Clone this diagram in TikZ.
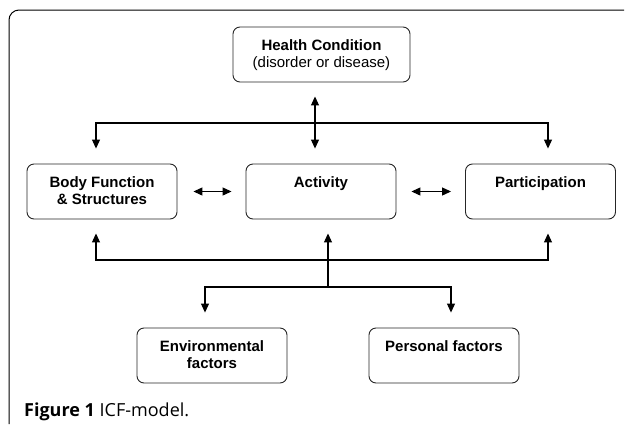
\documentclass[tikz,border=0pt]{standalone}
\usepackage{fontspec}
\setmainfont{Liberation Sans}
\newfontfamily\capfont{Open Sans}
\usetikzlibrary{positioning,arrows.meta}

\begin{document}
\begin{tikzpicture}[x=1pt,y=-1pt,
  box/.style={draw=black!85, line width=0.9pt, rounded corners=7pt,
    minimum width=150pt, minimum height=55pt},
  lbl/.style={inner sep=0pt, align=center,
    font=\fontsize{15}{17}\selectfont\bfseries},
  link/.style={line width=1.1pt},
  >={Triangle[length=9pt,width=8pt]}]
\useasboundingbox (0,0) rectangle (625,424);

% frame
\draw[line width=1pt, rounded corners=10pt] (9,424) |- (624,10);

% Health condition
\node[box, minimum width=177pt] (health) at (321.5,54.5) {};
\node[lbl, below=12.5pt of health.north] (healthtxt)
  {Health Condition\\\mdseries (disorder or disease)};

% middle row
\node[box] (body) at (102,191.5) {};
\node[box] (activity) at (321,191.5) {};
\node[box] (particip) at (540.5,191.5) {};
\node[lbl, below=12.5pt of body.north] (bodytxt) {Body Function\\\& Structures};
\node[lbl, below=12.5pt of activity.north] (activitytxt) {Activity};
\node[lbl, below=12.5pt of particip.north] (participtxt) {Participation};

% contextual factors
\node[box] (env) at (212,355.5) {};
\node[box] (personal) at (444,355.5) {};
\node[lbl, below=12.5pt of env.north] (envtxt) {Environmental\\factors};
\node[lbl, below=12.5pt of personal.north] (personaltxt) {Personal factors};

% bus coordinates
\coordinate (hx) at (315,0);
\coordinate (tl) at (96,123);
\coordinate (tr) at (548,123);
\coordinate (bl) at (96,260);
\coordinate (br) at (548,260);
\coordinate (mid) at (328,287);
\coordinate (el) at (205,287);
\coordinate (pr) at (451,287);

% connectors
\draw[link, <->, shorten <=14pt, shorten >=15pt]
  (health.south -| hx) -- (activity.north -| hx);
\draw[link, <->, shorten <=15pt, shorten >=15pt]
  (tl |- body.north) -- (tl) -- (tr) -- (tr |- particip.north);
\draw[link, <->, shorten <=14pt, shorten >=14pt]
  (bl |- body.south) -- (bl) -- (br) -- (br |- particip.south);
\draw[link, ->, shorten >=14pt] (mid) -- (mid |- activity.south);
\draw[link, <->, shorten <=15pt, shorten >=15pt]
  (el |- env.north) -- (el) -- (pr) -- (pr |- personal.north);
\draw[link, <->, shorten <=16pt, shorten >=14pt] (body.east) -- (activity.west);
\draw[link, <->, shorten <=15pt, shorten >=14pt] (activity.east) -- (particip.west);

% caption
\node[anchor=base west, inner sep=0pt, font=\capfont\fontsize{18}{20}\selectfont]
  (caption) at (24,416) {\textbf{Figure 1} ICF-model.};
\end{tikzpicture}
\end{document}
